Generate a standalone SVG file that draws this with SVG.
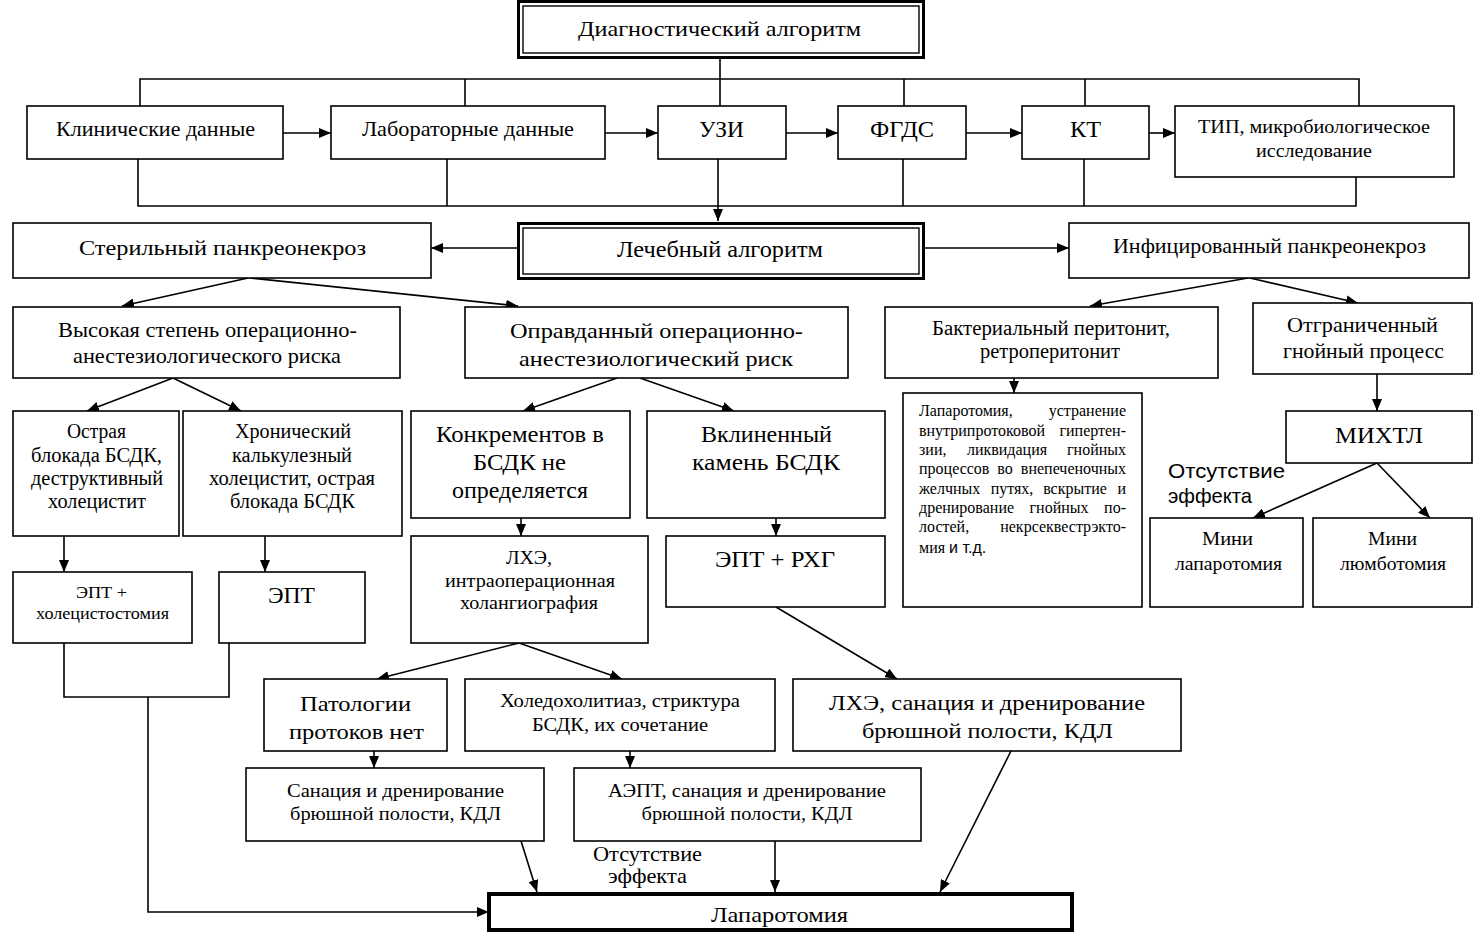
<svg xmlns="http://www.w3.org/2000/svg" width="1482" height="945" viewBox="0 0 1482 945">
<defs>
<marker id="ah" markerUnits="userSpaceOnUse" markerWidth="12" markerHeight="10" refX="12" refY="5" orient="auto">
<path d="M0,0 L12,5 L0,10 z" fill="#000"/>
</marker>
</defs>
<style>
.box{fill:#fff;stroke:#000;stroke-width:1.6}
.thin{fill:none;stroke:#000;stroke-width:1.4}
.dbl{fill:#fff;stroke:#000;stroke-width:3}
.heavy{fill:#fff;stroke:#000;stroke-width:4}
.ln{fill:none;stroke:#000;stroke-width:1.6}
.ar{fill:none;stroke:#000;stroke-width:1.6;marker-end:url(#ah)}
text{font-family:"Liberation Serif","Times New Roman",serif;fill:#000}
.c{text-anchor:middle}
.e{text-anchor:end}
.sans{font-family:"Liberation Sans",Arial,sans-serif}
</style>
<rect width="1482" height="945" fill="#fff"/>

<g id="connectors">
<polyline class="ln" points="140,106 140,79 1359,79 1359,106"/>
<line class="ln" x1="465" y1="79" x2="465" y2="106"/>
<line class="ln" x1="720" y1="59" x2="720" y2="106"/>
<line class="ln" x1="904" y1="79" x2="904" y2="106"/>
<line class="ln" x1="1085" y1="79" x2="1085" y2="106"/>
<line class="ar" x1="283" y1="133" x2="331" y2="133"/>
<line class="ar" x1="605" y1="133" x2="658" y2="133"/>
<line class="ar" x1="786" y1="133" x2="838" y2="133"/>
<line class="ar" x1="966" y1="133" x2="1022" y2="133"/>
<line class="ar" x1="1149" y1="133" x2="1175" y2="133"/>
<polyline class="ln" points="138,159 138,206 1356,206 1356,177"/>
<line class="ln" x1="447" y1="159" x2="447" y2="206"/>
<line class="ln" x1="903" y1="159" x2="903" y2="206"/>
<line class="ln" x1="1084" y1="159" x2="1084" y2="206"/>
<line class="ar" x1="718" y1="159" x2="718" y2="221"/>
<line class="ar" x1="517" y1="248" x2="431" y2="248"/>
<line class="ar" x1="924" y1="248" x2="1069" y2="248"/>
<line class="ar" x1="248" y1="278" x2="122" y2="306"/>
<line class="ar" x1="250" y1="278" x2="518" y2="306"/>
<line class="ar" x1="1248" y1="278" x2="1090" y2="306"/>
<line class="ar" x1="1250" y1="278" x2="1358" y2="303"/>
<line class="ar" x1="173" y1="378" x2="87" y2="411"/>
<line class="ar" x1="173" y1="378" x2="241" y2="411"/>
<line class="ar" x1="617" y1="378" x2="523" y2="411"/>
<line class="ar" x1="640" y1="378" x2="734" y2="411"/>
<line class="ar" x1="1014" y1="378" x2="1014" y2="393"/>
<line class="ar" x1="1377" y1="374" x2="1377" y2="411"/>
<line class="ar" x1="1377" y1="463" x2="1253" y2="518"/>
<line class="ar" x1="1377" y1="463" x2="1430" y2="518"/>
<line class="ar" x1="64" y1="536" x2="64" y2="572"/>
<line class="ar" x1="265" y1="536" x2="265" y2="572"/>
<line class="ar" x1="521" y1="518" x2="521" y2="536"/>
<line class="ar" x1="776" y1="518" x2="776" y2="536"/>
<line class="ar" x1="776" y1="607" x2="897" y2="679"/>
<polyline class="ln" points="64,643 64,697 229,697 229,643"/>
<polyline class="ar" points="148,697 148,912 489,912"/>
<line class="ar" x1="519" y1="643" x2="377" y2="679"/>
<line class="ar" x1="519" y1="643" x2="622" y2="679"/>
<line class="ar" x1="374" y1="751" x2="374" y2="768"/>
<line class="ar" x1="630" y1="751" x2="630" y2="768"/>
<line class="ar" x1="521" y1="841" x2="537" y2="892"/>
<line class="ar" x1="775" y1="841" x2="775" y2="892"/>
<line class="ar" x1="1011" y1="751" x2="940" y2="892"/>
</g>

<g id="diag">
<rect class="dbl" x="518.5" y="1.5" width="405" height="56"/>
<rect class="thin" x="523" y="6" width="396" height="47"/>
<text class="c" x="719.5" y="36" font-size="22" textLength="283" lengthAdjust="spacingAndGlyphs">Диагностический алгоритм</text>
</g>
<g id="klin">
<rect class="box" x="27" y="106" width="256" height="53"/>
<text class="c" x="155.5" y="136" font-size="21" textLength="199" lengthAdjust="spacingAndGlyphs">Клинические данные</text>
</g>
<g id="lab">
<rect class="box" x="331" y="106" width="274" height="53"/>
<text class="c" x="468" y="136" font-size="21" textLength="212" lengthAdjust="spacingAndGlyphs">Лабораторные данные</text>
</g>
<g id="uzi">
<rect class="box" x="658" y="106" width="128" height="53"/>
<text class="c" x="721.5" y="137" font-size="23" textLength="45" lengthAdjust="spacingAndGlyphs">УЗИ</text>
</g>
<g id="fgds">
<rect class="box" x="838" y="106" width="128" height="53"/>
<text class="c" x="902" y="137" font-size="23" textLength="64" lengthAdjust="spacingAndGlyphs">ФГДС</text>
</g>
<g id="kt">
<rect class="box" x="1022" y="106" width="127" height="53"/>
<text class="c" x="1085.5" y="137" font-size="23" textLength="31" lengthAdjust="spacingAndGlyphs">КТ</text>
</g>
<g id="tip">
<rect class="box" x="1175" y="106" width="279" height="71"/>
<text class="c" x="1314" y="133" font-size="18" textLength="232" lengthAdjust="spacingAndGlyphs">ТИП, микробиологическое</text>
<text class="c" x="1314" y="157" font-size="18" textLength="116" lengthAdjust="spacingAndGlyphs">исследование</text>
</g>

<g id="lech">
<rect class="dbl" x="518.5" y="223.5" width="405" height="55"/>
<rect class="thin" x="523" y="228" width="396" height="46"/>
<text class="c" x="720" y="257" font-size="23" textLength="206" lengthAdjust="spacingAndGlyphs">Лечебный алгоритм</text>
</g>
<g id="steril">
<rect class="box" x="13" y="223" width="418" height="55"/>
<text class="c" x="222.5" y="255" font-size="22" textLength="287" lengthAdjust="spacingAndGlyphs">Стерильный панкреонекроз</text>
</g>
<g id="infic">
<rect class="box" x="1069" y="223" width="400" height="55"/>
<text class="c" x="1269.5" y="253" font-size="21" textLength="313" lengthAdjust="spacingAndGlyphs">Инфицированный панкреонекроз</text>
</g>

<g id="vysok">
<rect class="box" x="13" y="307" width="387" height="71"/>
<text class="c" x="207.5" y="337" font-size="22" textLength="299" lengthAdjust="spacingAndGlyphs">Высокая степень операционно-</text>
<text class="c" x="207" y="363" font-size="22" textLength="268" lengthAdjust="spacingAndGlyphs">анестезиологического риска</text>
</g>
<g id="oprav">
<rect class="box" x="465" y="307" width="383" height="71"/>
<text class="c" x="656.5" y="338" font-size="22" textLength="293" lengthAdjust="spacingAndGlyphs">Оправданный операционно-</text>
<text class="c" x="656" y="366" font-size="22" textLength="274" lengthAdjust="spacingAndGlyphs">анестезиологический риск</text>
</g>
<g id="bakt">
<rect class="box" x="885" y="307" width="333" height="71"/>
<text class="c" x="1051" y="335" font-size="20" textLength="238" lengthAdjust="spacingAndGlyphs">Бактериальный перитонит,</text>
<text class="c" x="1050" y="358" font-size="20" textLength="140" lengthAdjust="spacingAndGlyphs">ретроперитонит</text>
</g>
<g id="otgr">
<rect class="box" x="1253" y="303" width="219" height="71"/>
<text class="c" x="1362.5" y="332" font-size="21" textLength="151" lengthAdjust="spacingAndGlyphs">Отграниченный</text>
<text class="c" x="1363.5" y="358" font-size="21" textLength="161" lengthAdjust="spacingAndGlyphs">гнойный процесс</text>
</g>

<g id="ostr">
<rect class="box" x="13" y="411" width="166" height="125"/>
<text class="c" x="96.5" y="438" font-size="20" textLength="59" lengthAdjust="spacingAndGlyphs">Острая</text>
<text class="c" x="96.5" y="462" font-size="20" textLength="131" lengthAdjust="spacingAndGlyphs">блокада БСДК,</text>
<text class="c" x="97" y="485" font-size="20" textLength="132" lengthAdjust="spacingAndGlyphs">деструктивный</text>
<text class="c" x="97" y="508" font-size="20" textLength="98" lengthAdjust="spacingAndGlyphs">холецистит</text>
</g>
<g id="hron">
<rect class="box" x="183" y="411" width="219" height="125"/>
<text class="c" x="293" y="438" font-size="20" textLength="116" lengthAdjust="spacingAndGlyphs">Хронический</text>
<text class="c" x="292" y="462" font-size="20" textLength="120" lengthAdjust="spacingAndGlyphs">калькулезный</text>
<text class="c" x="292" y="485" font-size="20" textLength="166" lengthAdjust="spacingAndGlyphs">холецистит, острая</text>
<text class="c" x="292.5" y="508" font-size="20" textLength="125" lengthAdjust="spacingAndGlyphs">блокада БСДК</text>
</g>
<g id="konkr">
<rect class="box" x="411" y="411" width="219" height="107"/>
<text class="c" x="520" y="442" font-size="23" textLength="168" lengthAdjust="spacingAndGlyphs">Конкрементов в</text>
<text class="c" x="519.5" y="470" font-size="23" textLength="93" lengthAdjust="spacingAndGlyphs">БСДК не</text>
<text class="c" x="520" y="498" font-size="23" textLength="136" lengthAdjust="spacingAndGlyphs">определяется</text>
</g>
<g id="vklin">
<rect class="box" x="647" y="411" width="238" height="107"/>
<text class="c" x="766.5" y="442" font-size="23" textLength="131" lengthAdjust="spacingAndGlyphs">Вклиненный</text>
<text class="c" x="766" y="470" font-size="23" textLength="148" lengthAdjust="spacingAndGlyphs">камень  БСДК</text>
</g>
<g id="laparo1">
<rect class="box" x="903" y="393" width="239" height="214"/>
<g font-size="16">
<text x="919" y="416">Лапаротомия,</text><text class="e" x="1126" y="416">устранение</text>
<text x="919" y="436">внутрипротоковой</text><text class="e" x="1126" y="436">гипертен-</text>
<text x="919" y="455">зии,</text><text class="c" x="1007" y="455">ликвидация</text><text class="e" x="1126" y="455">гнойных</text>
<text x="919" y="474">процессов</text><text class="c" x="1005" y="474">во</text><text class="e" x="1126" y="474">внепеченочных</text>
<text x="919" y="494">желчных</text><text class="c" x="1012" y="494">путях,</text><text class="c" x="1075" y="494">вскрытие</text><text class="e" x="1126" y="494">и</text>
<text x="919" y="513">дренирование</text><text class="c" x="1059" y="513">гнойных</text><text class="e" x="1126" y="513">по-</text>
<text x="919" y="532">лостей,</text><text class="e" x="1126" y="532">некрсеквестрэкто-</text>
<text x="919" y="553">мия <tspan class="sans" font-size="16">и т.д.</tspan></text>
</g>
</g>
<g id="mihtl">
<rect class="box" x="1286" y="411" width="186" height="52"/>
<text class="c" x="1379" y="443" font-size="24" textLength="88" lengthAdjust="spacingAndGlyphs">МИХТЛ</text>
</g>
<g id="otsut1">
<text class="sans" x="1168" y="478" font-size="21" textLength="117" lengthAdjust="spacingAndGlyphs">Отсутствие</text>
<text class="sans" x="1168" y="503" font-size="21" textLength="84" lengthAdjust="spacingAndGlyphs">эффекта</text>
</g>
<g id="minilap">
<rect class="box" x="1150" y="518" width="153" height="89"/>
<text class="c" x="1227.5" y="545" font-size="19" textLength="51" lengthAdjust="spacingAndGlyphs">Мини</text>
<text class="c" x="1228.5" y="570" font-size="19" textLength="107" lengthAdjust="spacingAndGlyphs">лапаротомия</text>
</g>
<g id="minilum">
<rect class="box" x="1313" y="518" width="159" height="89"/>
<text class="c" x="1392.5" y="545" font-size="19" textLength="49" lengthAdjust="spacingAndGlyphs">Мини</text>
<text class="c" x="1393" y="570" font-size="19" textLength="106" lengthAdjust="spacingAndGlyphs">люмботомия</text>
</g>

<g id="ept1">
<rect class="box" x="13" y="572" width="179" height="71"/>
<text class="c" x="101.5" y="598" font-size="16" textLength="51" lengthAdjust="spacingAndGlyphs">ЭПТ +</text>
<text class="c" x="102.5" y="619" font-size="16" textLength="133" lengthAdjust="spacingAndGlyphs">холецистостомия</text>
</g>
<g id="ept2">
<rect class="box" x="219" y="572" width="146" height="71"/>
<text class="c" x="291.5" y="603" font-size="23" textLength="47" lengthAdjust="spacingAndGlyphs">ЭПТ</text>
</g>
<g id="lhe1">
<rect class="box" x="411" y="536" width="237" height="107"/>
<text class="c" x="529" y="564" font-size="18" textLength="46" lengthAdjust="spacingAndGlyphs">ЛХЭ,</text>
<text class="c" x="530" y="587" font-size="18" textLength="170" lengthAdjust="spacingAndGlyphs">интраоперационная</text>
<text class="c" x="529" y="609" font-size="18" textLength="138" lengthAdjust="spacingAndGlyphs">холангиография</text>
</g>
<g id="eptrhg">
<rect class="box" x="666" y="536" width="219" height="71"/>
<text class="c" x="775" y="567" font-size="23" textLength="120" lengthAdjust="spacingAndGlyphs">ЭПТ + РХГ</text>
</g>

<g id="patol">
<rect class="box" x="264" y="679" width="183" height="72"/>
<text class="c" x="355.5" y="711" font-size="21" textLength="111" lengthAdjust="spacingAndGlyphs">Патологии</text>
<text class="c" x="356.5" y="739" font-size="21" textLength="135" lengthAdjust="spacingAndGlyphs">протоков нет</text>
</g>
<g id="holed">
<rect class="box" x="465" y="679" width="310" height="72"/>
<text class="c" x="620" y="707" font-size="18" textLength="240" lengthAdjust="spacingAndGlyphs">Холедохолитиаз, стриктура</text>
<text class="c" x="620" y="731" font-size="18" textLength="176" lengthAdjust="spacingAndGlyphs">БСДК, их сочетание</text>
</g>
<g id="lhe2">
<rect class="box" x="793" y="679" width="388" height="72"/>
<text class="c" x="987" y="710" font-size="22" textLength="316" lengthAdjust="spacingAndGlyphs">ЛХЭ, санация и дренирование</text>
<text class="c" x="987.5" y="738" font-size="22" textLength="251" lengthAdjust="spacingAndGlyphs">брюшной полости, КДЛ</text>
</g>
<g id="sanac">
<rect class="box" x="246" y="768" width="298" height="73"/>
<text class="c" x="395.5" y="797" font-size="18" textLength="217" lengthAdjust="spacingAndGlyphs">Санация и дренирование</text>
<text class="c" x="395.5" y="820" font-size="18" textLength="211" lengthAdjust="spacingAndGlyphs">брюшной полости, КДЛ</text>
</g>
<g id="aept">
<rect class="box" x="574" y="768" width="347" height="73"/>
<text class="c" x="747" y="797" font-size="18" textLength="278" lengthAdjust="spacingAndGlyphs">АЭПТ, санация и дренирование</text>
<text class="c" x="747" y="820" font-size="18" textLength="211" lengthAdjust="spacingAndGlyphs">брюшной полости, КДЛ</text>
</g>
<g id="otsut2">
<text x="593" y="861" font-size="21" textLength="109" lengthAdjust="spacingAndGlyphs">Отсутствие</text>
<text x="608" y="883" font-size="21" textLength="79" lengthAdjust="spacingAndGlyphs">эффекта</text>
</g>
<g id="laparo2">
<rect class="heavy" x="489" y="894" width="583" height="36"/>
<text class="c" x="779.5" y="922" font-size="21" textLength="137" lengthAdjust="spacingAndGlyphs">Лапаротомия</text>
</g>
</svg>
